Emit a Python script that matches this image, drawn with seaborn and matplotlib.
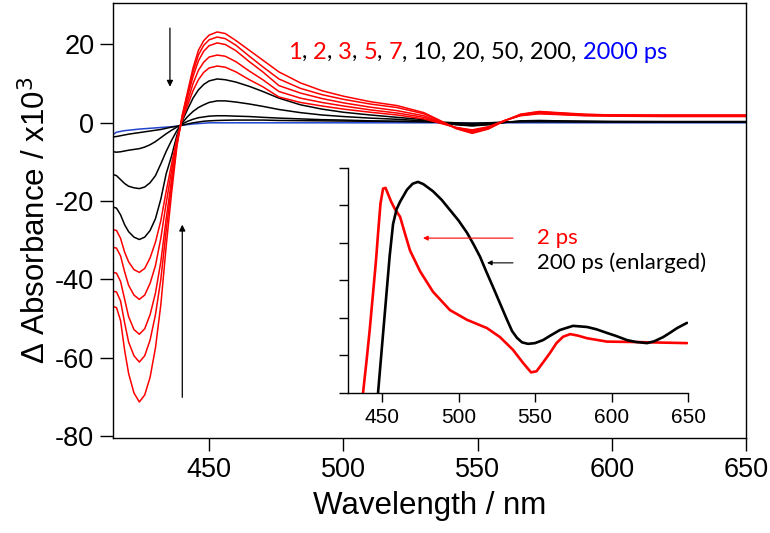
import numpy as np
import pandas as pd
import matplotlib
matplotlib.use('Agg')
import matplotlib.pyplot as plt
import seaborn as sns
from matplotlib.offsetbox import TextArea, HPacker, AnchoredOffsetbox

# wavelength grid (nm) shared by all transient spectra
wavelength = [414.2, 415.5, 417, 418.5, 420, 422, 424, 426, 428, 430, 432, 434,
              436, 438, 440, 442, 444, 446, 448, 450, 453, 456, 460, 465, 470,
              476, 484, 492, 500, 510, 520, 530, 536, 542, 548, 554, 560, 566,
              573, 580, 590, 600, 620, 650]

delays = ['1', '2', '3', '5', '7', '10', '20', '50', '200', '2000']

# delta absorbance x10^3
spec_1 = [-46.9, -47.2, -50.5, -58, -64, -69, -71.3, -69.5, -65, -57.5, -46.5, -31.5,
          -18, -6, 2, 8, 14, 18.5, 21, 22.4, 23.2, 22.8, 21, 18.5, 16,
          13.0, 10.2, 8.2, 6.8, 5.4, 4.4, 2.6, 0.6, -1.5, -2.7, -1.6, 0.5, 2.2,
          2.9, 2.6, 2.2, 2.0, 2.0, 2.0]
spec_2 = [-43.0, -43.2, -45.5, -51, -56, -59.5, -61.1, -59.5, -55.5, -49, -40, -27.5,
          -16, -5.5, 1.8, 7.5, 13, 17.3, 19.8, 21.2, 21.9, 21.5, 19.8, 17.0, 14.3,
          11.2, 8.8, 7.2, 6.0, 4.8, 3.9, 2.3, 0.5, -1.4, -2.5, -1.5, 0.5, 2.1,
          2.8, 2.5, 2.1, 2.0, 1.9, 1.9]
spec_3 = [-38.2, -38.4, -40.5, -45, -49.5, -52.8, -54.0, -52.6, -49, -43.5, -35.5, -24.5,
          -14.5, -5, 1.5, 6.8, 11.8, 15.8, 18.3, 19.7, 20.4, 20.0, 18.4, 15.6, 13.0,
          9.5, 7.6, 6.2, 5.1, 4.0, 3.1, 1.8, 0.3, -1.3, -2.3, -1.4, 0.5, 2.0,
          2.6, 2.3, 2.0, 1.9, 1.8, 1.8]
spec_5 = [-31.8, -32, -34, -38, -41.5, -44, -45.1, -44, -41, -36.5, -29.5, -20.5,
          -12.3, -4.5, 1.1, 5.6, 10, 13.4, 15.5, 16.8, 17.3, 17.0, 15.6, 13.2, 11.0,
          8.0, 6.3, 5.2, 4.3, 3.3, 2.5, 1.4, 0.1, -1.2, -2.0, -1.2, 0.5, 1.9,
          2.4, 2.2, 1.9, 1.8, 1.7, 1.7]
spec_7 = [-27.3, -27.5, -29.5, -33, -35.5, -37.5, -38.2, -37.2, -34.5, -30.5, -25, -17.5,
          -10.5, -4, 0.8, 4.5, 8.2, 11, 12.9, 14, 14.5, 14.2, 13, 11, 9.2,
          6.6, 5.2, 4.3, 3.5, 2.7, 2.0, 1.0, -0.1, -1.2, -1.8, -1.0, 0.6, 1.8,
          2.3, 2.1, 1.8, 1.7, 1.6, 1.6]
spec_10 = [-21.5, -21.8, -23.5, -26, -27.8, -29.2, -29.8, -29.2, -27.5, -24.5, -19.5, -13,
           -8.5, -3.2, 0.5, 3.5, 6.3, 8.4, 9.8, 10.7, 11.2, 11.0, 10.4, 9.3, 8.0,
           6.3, 4.6, 3.5, 2.7, 2.0, 1.4, 0.8, 0.1, -0.5, -0.8, -0.5, 0.1, 0.5,
           0.6, 0.5, 0.4, 0.35, 0.3, 0.3]
spec_20 = [-13.2, -13.5, -14.5, -15.5, -16.2, -16.6, -16.8, -16.4, -15.3, -13.5, -10.5, -7.3,
           -4.5, -2.0, 0, 1.6, 2.9, 3.9, 4.6, 5.2, 5.6, 5.6, 5.3, 4.8, 4.2,
           3.4, 2.6, 2.0, 1.6, 1.2, 0.9, 0.5, 0.1, -0.4, -0.7, -0.4, 0.1, 0.4,
           0.5, 0.4, 0.35, 0.3, 0.3, 0.3]
spec_50 = [-7.4, -7.5, -7.4, -7.2, -7.0, -6.8, -6.6, -6.2, -5.6, -4.8, -3.8, -2.8,
           -1.9, -1.1, -0.3, 0.4, 0.9, 1.3, 1.5, 1.7, 1.8, 1.8, 1.7, 1.6, 1.4,
           1.2, 1.0, 0.8, 0.7, 0.5, 0.4, 0.3, 0.1, -0.2, -0.4, -0.2, 0.1, 0.3,
           0.35, 0.3, 0.3, 0.25, 0.25, 0.25]
spec_200 = [-3.6, -3.5, -3.3, -3.1, -2.9, -2.7, -2.5, -2.3, -2.1, -1.9, -1.7, -1.4,
            -1.1, -0.9, -0.6, -0.3, 0.0, 0.2, 0.4, 0.5, 0.6, 0.65, 0.7, 0.7, 0.7,
            0.6, 0.55, 0.5, 0.45, 0.4, 0.35, 0.3, 0.2, 0.0, -0.1, 0.0, 0.2, 0.3,
            0.3, 0.3, 0.25, 0.25, 0.2, 0.2]
spec_2000 = [-3.0, -2.4, -2.2, -2.0, -1.9, -1.75, -1.6, -1.5, -1.4, -1.3, -1.2, -1.1,
             -1.0, -0.85, -0.65, -0.45, -0.3, -0.2, -0.1, 0, 0, 0, 0, 0, 0,
             0, 0, 0, 0, 0, 0, 0, 0, -0.05, -0.1, -0.05, 0, 0,
             0, 0, 0, 0, 0, 0]

spectra = [spec_1, spec_2, spec_3, spec_5, spec_7,
           spec_10, spec_20, spec_50, spec_200, spec_2000]

# inset: 2 ps and 200 ps (enlarged), arbitrary units
inset_2ps_wl = [436.0, 437.6, 440, 442, 444, 446, 447.5, 449, 450.7, 452.3,
                454, 456, 458.5, 461.8, 465, 468.3, 474.8, 483.3, 494.4, 505.6,
                518.6, 527.1, 535.6, 542.2, 547.4, 551, 555, 559.8, 564, 568.3,
                573, 578, 584, 597, 614, 649.3]
inset_2ps_val = [-1.0, 0.0, 0.9, 1.7, 2.6, 3.5, 4.3, 5.05, 5.45, 5.47,
                 5.3, 5.1, 4.9, 4.7, 4.25, 3.8, 3.25, 2.7, 2.21, 1.95,
                 1.73, 1.49, 1.15, 0.8, 0.55, 0.58, 0.8, 1.07, 1.33, 1.5,
                 1.57, 1.53, 1.46, 1.37, 1.36, 1.33]
inset_200ps_wl = [446.6, 447.4, 450, 452.5, 455, 457.2, 459.5, 461.8, 466.3, 470,
                  473.5, 477, 483.3, 489, 494.4, 500, 505.6, 510, 514.1, 518,
                  522.5, 527, 531.7, 535, 538.2, 541.5, 545.4, 550, 555.2, 560,
                  566.3, 574.8, 584, 590, 597.1, 603, 610.1, 616, 623.2, 628,
                  633.7, 638, 642.8, 649.3]
inset_200ps_val = [-0.5, 0.0, 1.25, 2.45, 3.65, 4.5, 4.9, 5.1, 5.42, 5.58,
                   5.63, 5.57, 5.38, 5.15, 4.88, 4.6, 4.27, 3.95, 3.63, 3.25,
                   2.83, 2.4, 1.95, 1.65, 1.47, 1.35, 1.31, 1.33, 1.41, 1.53,
                   1.68, 1.79, 1.76, 1.7, 1.6, 1.52, 1.41, 1.36, 1.33, 1.38,
                   1.49, 1.6, 1.73, 1.87]

line_colors = {'1': '#ff0000', '2': '#ff0000', '3': '#ff0000', '5': '#ff0000',
               '7': '#ff0000', '10': 'black', '20': 'black', '50': 'black',
               '200': 'black', '2000': '#2244cc'}

rows = []
for d, vals in zip(delays, spectra):
    for w, v in zip(wavelength, vals):
        rows.append((d, w, v))
df = pd.DataFrame(rows, columns=['delay', 'wavelength', 'dA'])

sns.set_theme(style='ticks')
plt.rcParams['font.family'] = ['Liberation Sans', 'DejaVu Sans']
plt.rcParams['axes.linewidth'] = 1.0
plt.rcParams['axes.unicode_minus'] = False
plt.rcParams['text.color'] = 'black'
plt.rcParams['axes.labelcolor'] = 'black'

fig = plt.figure(figsize=(7.7, 5.33), dpi=100)
ax = fig.add_axes([0.1468, 0.1782, 0.822, 0.8162])

# blue first, then black, red on top
for d in delays[::-1]:
    sub = df[df['delay'] == d]
    sns.lineplot(data=sub, x='wavelength', y='dA', color=line_colors[d],
                 lw=1.1, ax=ax, legend=False, sort=False)

ax.set_xlim(414.2, 650)
ax.set_ylim(-80.5, 30.6)
ax.set_xticks([450, 500, 550, 600, 650])
ax.set_yticks([-80, -60, -40, -20, 0, 20])
ax.tick_params(direction='out', length=9.5, width=1.0, labelsize=19.5,
               colors='black', pad=4)
for s in ax.spines.values():
    s.set_color('black')
ax.set_xlabel('Wavelength / nm', fontsize=22.5, labelpad=6, color='black')
ax.set_ylabel('Δ Absorbance / x10$^3$', fontsize=22.5, labelpad=2, color='black')

# arrows showing the evolution with delay time
ax.annotate('', xy=(435.4, 9.2), xytext=(435.4, 24.2),
            arrowprops=dict(arrowstyle='-|>', color='black', lw=0.9,
                            mutation_scale=9, shrinkA=0, shrinkB=0))
ax.annotate('', xy=(440.0, -26.0), xytext=(440.0, -70.1),
            arrowprops=dict(arrowstyle='-|>', color='black', lw=0.9,
                            mutation_scale=9, shrinkA=0, shrinkB=0))

# coloured list of delays
pieces = [('1', 'red'), (', ', 'black'), ('2', 'red'), (', ', 'black'),
          ('3', 'red'), (', ', 'black'), ('5', 'red'), (', ', 'black'),
          ('7', 'red'), (', 10, 20, 50, 200, ', 'black'), ('2000 ps', 'blue')]
areas = [TextArea(t, textprops=dict(color=c, fontsize=17, family=['Lato', 'DejaVu Sans']))
         for t, c in pieces]
box = HPacker(children=areas, align='baseline', pad=0, sep=0)
anch = AnchoredOffsetbox(loc='lower left', child=box, pad=0, borderpad=0,
                         frameon=False, bbox_to_anchor=(0.2765, 0.862),
                         bbox_transform=ax.transAxes)
ax.add_artist(anch)

# inset
ins = fig.add_axes([0.452, 0.2627, 0.4416, 0.4221])
ins.patch.set_alpha(0)
sns.lineplot(x=inset_2ps_wl, y=inset_2ps_val, color='#ff0000', lw=1.9, ax=ins, sort=False)
sns.lineplot(x=inset_200ps_wl, y=inset_200ps_val, color='black', lw=1.9, ax=ins, sort=False)
ins.set_xlim(427.8, 650)
ins.set_ylim(0, 6)
ins.set_xticks([450, 500, 550, 600, 650])
ins.set_yticks([0, 1, 2, 3, 4, 5, 6])
ins.set_yticklabels([])
ins.tick_params(direction='out', length=6.5, width=1.0, labelsize=15,
                colors='black', pad=4)
ins.spines['top'].set_visible(False)
ins.spines['right'].set_visible(False)
for s in ['left', 'bottom']:
    ins.spines[s].set_color('black')
ins.set_xlabel('')
ins.set_ylabel('')

ins.annotate('', xy=(476.8, 4.13), xytext=(535.6, 4.13),
             arrowprops=dict(arrowstyle='-|>', color='red', lw=0.8,
                             mutation_scale=7, shrinkA=0, shrinkB=0))
ins.annotate('', xy=(518.6, 3.47), xytext=(535.6, 3.47),
             arrowprops=dict(arrowstyle='-|>', color='black', lw=0.8,
                             mutation_scale=7, shrinkA=0, shrinkB=0))
ins.text(551.3, 4.13, '2 ps', color='red', fontsize=16, va='center', ha='left',
         family=['Lato', 'DejaVu Sans'])
ins.text(551.3, 3.47, '200 ps (enlarged)', color='black', fontsize=16, va='center',
         ha='left', family=['Lato', 'DejaVu Sans'])

fig.savefig('out.png', dpi=100)
